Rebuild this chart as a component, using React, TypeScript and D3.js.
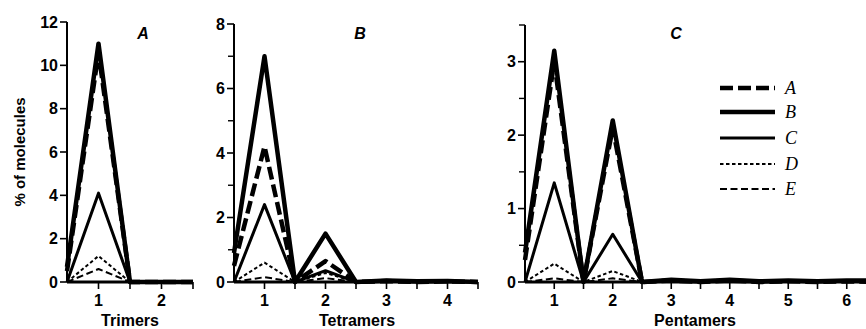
import React from "react";
import * as d3 from "d3";

const seriesNames = ["A", "B", "C", "D", "E"];

const trimerX = [0.5, 1, 1.5, 2, 2.5];
const trimerA = [0.5, 10.6, 0, 0, 0];
const trimerB = [0.7, 11, 0, 0, 0];
const trimerC = [0, 4.1, 0, 0, 0];
const trimerD = [0, 1.2, 0, 0, 0];
const trimerE = [0, 0.6, 0, 0, 0];

const tetramerX = [0.5, 1, 1.5, 2, 2.5, 3, 3.5, 4, 4.5];
const tetramerA = [0.5, 4.2, 0, 0.65, 0, 0.03, 0, 0.02, 0];
const tetramerB = [0.9, 7, 0, 1.5, 0, 0.05, 0.02, 0.03, 0];
const tetramerC = [0, 2.4, 0, 0.35, 0, 0.02, 0, 0.02, 0];
const tetramerD = [0, 0.6, 0, 0.28, 0, 0.01, 0, 0.01, 0];
const tetramerE = [0, 0.15, 0, 0.12, 0, 0, 0, 0, 0];

const pentamerX = [0.5, 1, 1.5, 2, 2.5, 3, 3.5, 4, 4.5, 5, 5.5, 6, 6.5];
const pentamerA = [0.3, 3.0, 0, 2.1, 0, 0.02, 0, 0.02, 0, 0.01, 0, 0.01, 0];
const pentamerB = [0.4, 3.15, 0, 2.2, 0, 0.03, 0.01, 0.03, 0.01, 0.02, 0.01, 0.02, 0.02];
const pentamerC = [0, 1.35, 0, 0.65, 0, 0.01, 0, 0.01, 0, 0.01, 0, 0.01, 0];
const pentamerD = [0, 0.25, 0, 0.15, 0, 0, 0, 0, 0, 0, 0, 0, 0];
const pentamerE = [0, 0.05, 0, 0.05, 0, 0, 0, 0, 0, 0, 0, 0, 0];

const trimerTicks = [1, 2];
const tetramerTicks = [1, 2, 3, 4];
const pentamerTicks = [1, 2, 3, 4, 5, 6];

const trimerYTicks = [0, 2, 4, 6, 8, 10, 12];
const tetramerYTicks = [0, 2, 4, 6, 8];
const tetramerYMinor = [1, 3, 5, 7];
const pentamerYTicks = [0, 1, 2, 3];
const pentamerYMinor = [0.5, 1.5, 2.5, 3.5];

const styles: Record<string, { w: number; dash: string }> = {
  A: { w: 4.5, dash: "13,5" },
  B: { w: 4.5, dash: "" },
  C: { w: 3, dash: "" },
  D: { w: 2, dash: "3.5,2.5" },
  E: { w: 2, dash: "7,3.5" },
};

const FONT = "'Liberation Sans', Arial, sans-serif";

type PanelProps = {
  xs: number[];
  series: number[][];
  xDomain: [number, number];
  xRange: [number, number];
  yMax: number;
  yTop: number;
  yTicks: number[];
  yMinor: number[];
  xTicks: number[];
  title: string;
  titleX: number;
  xLabel: string;
  xLabelX: number;
};

function Panel(p: PanelProps) {
  const y0 = 282;
  const x = d3.scaleLinear().domain(p.xDomain).range(p.xRange);
  const y = d3.scaleLinear().domain([0, p.yMax]).range([y0, p.yTop]);
  const line = d3
    .line<number>()
    .x((_, i) => x(p.xs[i]))
    .y((d) => y(d));
  const axisX = x(p.xDomain[0]);
  const halfTicks: number[] = [];
  for (let v = p.xDomain[0] + 0.5; v <= p.xDomain[1] + 1e-9; v += 0.5) halfTicks.push(v);
  return (
    <g>
      <line x1={axisX} x2={axisX} y1={y(p.yMax)} y2={y0} stroke="#000" strokeWidth={2} />
      {p.yTicks.map((t) => (
        <g key={"yt" + t}>
          <line x1={axisX - 7} x2={axisX} y1={y(t)} y2={y(t)} stroke="#000" strokeWidth={1.6} />
          <text
            x={axisX - 9}
            y={y(t)}
            dy="0.36em"
            textAnchor="end"
            fontFamily={FONT}
            fontWeight="bold"
            fontSize={16}
          >
            {t}
          </text>
        </g>
      ))}
      {p.yMinor.map((t) => (
        <line key={"ym" + t} x1={axisX - 6} x2={axisX} y1={y(t)} y2={y(t)} stroke="#000" strokeWidth={1.4} />
      ))}
      <line x1={axisX} x2={x(p.xDomain[1])} y1={y0} y2={y0} stroke="#000" strokeWidth={3} />
      {halfTicks.map((t) => (
        <line key={"xt" + t} x1={x(t)} x2={x(t)} y1={y0} y2={y0 + 7} stroke="#000" strokeWidth={1.6} />
      ))}
      {p.xTicks.map((t) => (
        <text
          key={"xl" + t}
          x={x(t)}
          y={306}
          textAnchor="middle"
          fontFamily={FONT}
          fontWeight="bold"
          fontSize={16}
        >
          {t}
        </text>
      ))}
      <text x={p.xLabelX} y={326} textAnchor="middle" fontFamily={FONT} fontWeight="bold" fontSize={16}>
        {p.xLabel}
      </text>
      <text
        x={p.titleX}
        y={39}
        textAnchor="middle"
        fontFamily={FONT}
        fontWeight="bold"
        fontStyle="italic"
        fontSize={16}
      >
        {p.title}
      </text>
      {p.series.map((s, i) => {
        const st = styles[seriesNames[i]];
        return (
          <path
            key={"s" + i}
            d={line(s) || ""}
            fill="none"
            stroke="#000"
            strokeWidth={st.w}
            strokeDasharray={st.dash || undefined}
            strokeLinejoin="round"
          />
        );
      })}
    </g>
  );
}

export default function App() {
  const legendY = [88, 112, 138, 164, 189];
  return (
    <svg width={866} height={329} style={{ position: "absolute", left: 0, top: 0, background: "#fff" }}>
      <rect width={866} height={329} fill="#fff" />
      <text
        transform="translate(25,152) rotate(-90)"
        textAnchor="middle"
        fontFamily={FONT}
        fontWeight="bold"
        fontSize={15}
      >
        % of molecules
      </text>
      <Panel
        xs={trimerX}
        series={[trimerA, trimerB, trimerC, trimerD, trimerE]}
        xDomain={[0.5, 2.5]}
        xRange={[67, 193]}
        yMax={12}
        yTop={22}
        yTicks={trimerYTicks}
        yMinor={[]}
        xTicks={trimerTicks}
        title="A"
        titleX={143}
        xLabel="Trimers"
        xLabelX={130}
      />
      <Panel
        xs={tetramerX}
        series={[tetramerA, tetramerB, tetramerC, tetramerD, tetramerE]}
        xDomain={[0.5, 4.5]}
        xRange={[234, 478]}
        yMax={8}
        yTop={24}
        yTicks={tetramerYTicks}
        yMinor={tetramerYMinor}
        xTicks={tetramerTicks}
        title="B"
        titleX={360}
        xLabel="Tetramers"
        xLabelX={357}
      />
      <Panel
        xs={pentamerX}
        series={[pentamerA, pentamerB, pentamerC, pentamerD, pentamerE]}
        xDomain={[0.5, 6.5]}
        xRange={[525, 876]}
        yMax={3.5}
        yTop={25}
        yTicks={pentamerYTicks}
        yMinor={pentamerYMinor}
        xTicks={pentamerTicks}
        title="C"
        titleX={676}
        xLabel="Pentamers"
        xLabelX={695}
      />
      {seriesNames.map((n, i) => {
        const st = styles[n];
        return (
          <g key={"lg" + n}>
            <line
              x1={720}
              x2={775}
              y1={legendY[i]}
              y2={legendY[i]}
              stroke="#000"
              strokeWidth={st.w}
              strokeDasharray={st.dash || undefined}
            />
            <text
              x={785}
              y={legendY[i]}
              dy="0.35em"
              fontFamily="'Liberation Serif', 'Times New Roman', serif"
              fontStyle="italic"
              fontSize={18}
            >
              {n}
            </text>
          </g>
        );
      })}
    </svg>
  );
}
